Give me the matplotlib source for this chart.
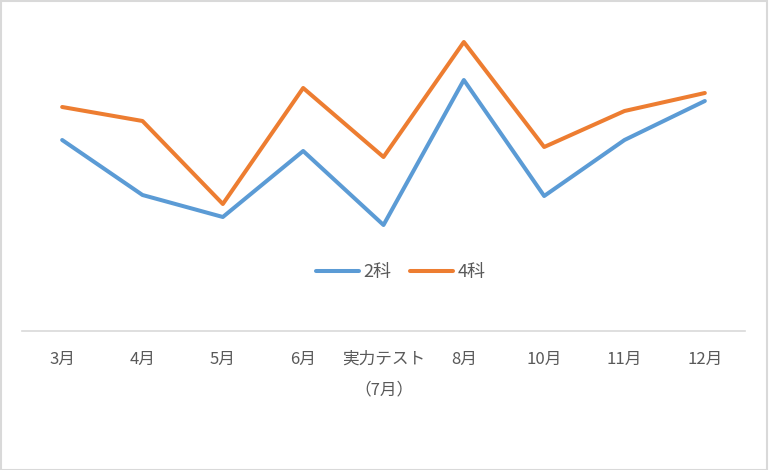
import matplotlib.pyplot as plt
from matplotlib.patches import Rectangle

plt.rcParams['font.family'] = ['Noto Sans CJK JP', 'DejaVu Sans']

# categories and series (arbitrary scale - no y axis shown)
labels = ["3月", "4月", "5月", "6月", "実力テスト\n（7月）", "8月", "10月", "11月", "12月"]
two_subj = [191, 136, 114, 180, 106, 251, 135, 191, 230]
four_subj = [224, 210, 127, 243, 174, 289, 184, 220, 238]

fig = plt.figure(figsize=(7.69, 4.70), dpi=100)
ax = fig.add_axes([22 / 769, 1 - 331 / 470, (745 - 22) / 769, 316 / 470])

x = range(len(labels))
ax.plot(x, two_subj, color="#5B9BD5", lw=2.9, label="2科", solid_capstyle="round")
ax.plot(x, four_subj, color="#ED7D31", lw=2.9, label="4科", solid_capstyle="round")

ax.set_xlim(-0.5, len(labels) - 0.5)
ax.set_ylim(0, 316)
ax.set_yticks([])
for s in ["top", "right", "left"]:
    ax.spines[s].set_visible(False)
ax.spines["bottom"].set_color("#D9D9D9")
ax.spines["bottom"].set_linewidth(1.2)

ax.set_xticks(list(x))
ax.set_xticklabels(labels, fontsize=12, color="#595959")
ax.tick_params(axis="x", length=0, pad=14)
for lbl in ax.get_xticklabels():
    lbl.set_linespacing(2.05)

leg = ax.legend(loc="center", bbox_to_anchor=(0.524, 0.187), ncol=2, frameon=False,
                fontsize=13, handlelength=2.4, handletextpad=0.25, columnspacing=1.0)
for t in leg.get_texts():
    t.set_color("#595959")

fig.patches.append(Rectangle((0.001, 0.001), 0.997, 0.997, transform=fig.transFigure,
                             fill=False, edgecolor="#D9D9D9", linewidth=1.5))

fig.savefig("out.png", dpi=100)
